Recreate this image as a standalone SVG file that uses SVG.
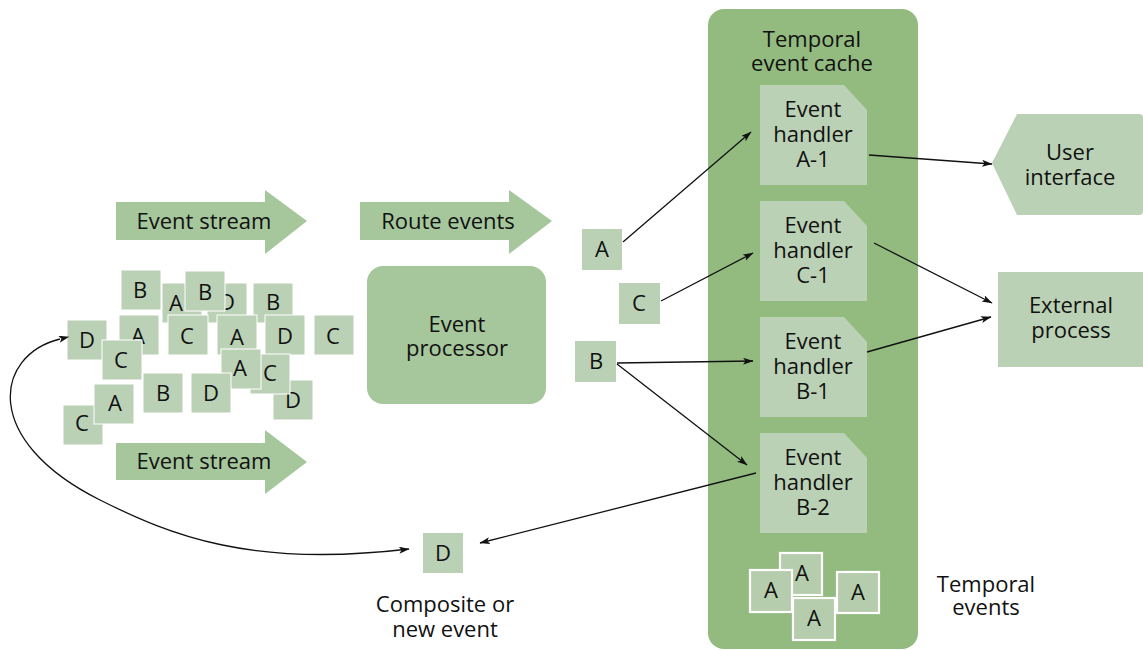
<svg xmlns="http://www.w3.org/2000/svg" width="1143" height="650" viewBox="0 0 1143 650">
<style>
text{font-family:"Open Sans","Liberation Sans",sans-serif;font-size:22px;fill:#111;text-anchor:middle}
.ev{fill:#bbd1b5;stroke:#fff;stroke-width:1}
.tev{fill:#b5cdac;stroke:#fff;stroke-width:2.2}
.big{fill:#a6c79c}
.lite{fill:#bbd1b5}
.cache{fill:#93bb80}
.conn{fill:none;stroke:#111;stroke-width:1.3}
</style>
<defs>
<marker id="ah" markerWidth="11" markerHeight="8" refX="10" refY="3.5" orient="auto" markerUnits="userSpaceOnUse">
<path d="M0,0 L10.5,3.5 L0,7 L2.5,3.5 Z" fill="#111"/>
</marker>
<marker id="ahs" markerWidth="11" markerHeight="8" refX="1" refY="3.5" orient="auto-start-reverse" markerUnits="userSpaceOnUse">
<path d="M0,0 L10.5,3.5 L0,7 L2.5,3.5 Z" fill="#111"/>
</marker>
</defs>
<rect width="1143" height="650" fill="#fff"/>

<g id="stream-top">
<polygon class="big" points="116,202 265,202 265,190 307,221 265,254 265,240 116,240"/>
<text x="204" y="229">Event stream</text>
</g>
<g id="route-events">
<polygon class="big" points="360,202 509,202 509,190 552,221 509,254 509,240 360,240"/>
<text x="448" y="229">Route events</text>
</g>
<g id="stream-bottom">
<polygon class="big" points="116,443 265,443 265,430 307,462 265,494 265,480 116,480"/>
<text x="204" y="469">Event stream</text>
</g>

<g id="event-cluster">
<rect class="ev" x="207" y="283" width="40" height="40"/><text x="227" y="310">D</text>
<rect class="ev" x="162" y="283" width="40" height="40"/><text x="176" y="311">A</text>
<rect class="ev" x="121" y="270" width="40" height="40"/><text x="140" y="298">B</text>
<rect class="ev" x="185" y="271" width="40" height="40"/><text x="205" y="300">B</text>
<rect class="ev" x="253" y="283" width="40" height="40"/><text x="273" y="310">B</text>
<rect class="ev" x="67" y="320" width="40" height="40"/><text x="87" y="348">D</text>
<rect class="ev" x="119" y="315" width="40" height="40"/><text x="138" y="344">A</text>
<rect class="ev" x="168" y="315" width="40" height="40"/><text x="187" y="344">C</text>
<rect class="ev" x="217" y="315" width="40" height="40"/><text x="237" y="345">A</text>
<rect class="ev" x="265" y="315" width="40" height="40"/><text x="285" y="344">D</text>
<rect class="ev" x="314" y="315" width="40" height="40"/><text x="333" y="344">C</text>
<rect class="ev" x="102" y="340" width="40" height="40"/><text x="121" y="368">C</text>
<rect class="ev" x="273" y="380" width="40" height="40"/><text x="293" y="408">D</text>
<rect class="ev" x="250" y="354" width="40" height="40"/><text x="270" y="381">C</text>
<rect class="ev" x="221" y="349" width="40" height="40"/><text x="240" y="376">A</text>
<rect class="ev" x="143" y="373" width="40" height="40"/><text x="163" y="401">B</text>
<rect class="ev" x="191" y="373" width="40" height="40"/><text x="211" y="401">D</text>
<rect class="ev" x="63" y="405" width="40" height="40"/><text x="82" y="431">C</text>
<rect class="ev" x="94" y="384" width="40" height="40"/><text x="115" y="411">A</text>
</g>

<g id="event-processor">
<rect class="big" x="367" y="266" width="179" height="138" rx="16"/>
<text x="457" y="332">Event</text>
<text x="457" y="356">processor</text>
</g>

<g id="event-a">
<rect class="lite" x="582" y="229" width="40" height="41"/><text x="602" y="257">A</text>
</g>
<g id="event-c">
<rect class="lite" x="619" y="283" width="41" height="41"/><text x="639" y="311">C</text>
</g>
<g id="event-b">
<rect class="lite" x="575" y="341" width="41" height="41"/><text x="596" y="369">B</text>
</g>

<g id="temporal-event-cache">
<rect class="cache" x="708" y="9" width="210" height="640" rx="16"/>
<text x="812" y="47">Temporal</text>
<text x="812" y="71">event cache</text>
</g>

<g id="handler-a1">
<path class="lite" d="M760,85 H844 L867,110 V185 H760 Z"/>
<text x="813" y="117">Event</text><text x="813" y="142">handler</text><text x="813" y="167">A-1</text>
</g>
<g id="handler-c1">
<path class="lite" d="M760,201 H844 L867,226 V301 H760 Z"/>
<text x="813" y="233">Event</text><text x="813" y="258">handler</text><text x="813" y="283">C-1</text>
</g>
<g id="handler-b1">
<path class="lite" d="M760,317 H844 L867,342 V417 H760 Z"/>
<text x="813" y="349">Event</text><text x="813" y="374">handler</text><text x="813" y="399">B-1</text>
</g>
<g id="handler-b2">
<path class="lite" d="M760,433 H844 L867,458 V533 H760 Z"/>
<text x="813" y="465">Event</text><text x="813" y="490">handler</text><text x="813" y="515">B-2</text>
</g>

<g id="temporal-events-stack">
<rect class="tev" x="780" y="553" width="42" height="42"/><text x="802" y="581">A</text>
<rect class="tev" x="750" y="570" width="42" height="42"/><text x="771" y="598">A</text>
<rect class="tev" x="793" y="598" width="42" height="42"/><text x="814" y="626">A</text>
<rect class="tev" x="837" y="572" width="42" height="41"/><text x="858" y="600">A</text>
</g>
<g id="temporal-events-label">
<text x="986" y="592">Temporal</text>
<text x="986" y="615">events</text>
</g>

<g id="user-interface">
<path class="lite" d="M992,163 L1017,114 H1139 Q1143,114 1143,118 V211 Q1143,215 1139,215 H1017 Z"/>
<text x="1070" y="160">User</text>
<text x="1070" y="185">interface</text>
</g>

<g id="external-process">
<rect class="lite" x="998" y="272" width="145" height="95"/>
<text x="1071" y="313">External</text>
<text x="1071" y="338">process</text>
</g>

<g id="event-d">
<rect class="lite" x="423" y="533" width="40" height="40"/><text x="443" y="561">D</text>
</g>
<g id="composite-label">
<text x="445" y="612">Composite or</text>
<text x="445" y="637">new event</text>
</g>

<g id="connectors">
<line class="conn" x1="623" y1="242" x2="751" y2="132" marker-end="url(#ah)"/>
<line class="conn" x1="661" y1="301" x2="753" y2="253" marker-end="url(#ah)"/>
<line class="conn" x1="617" y1="363" x2="753" y2="361" marker-end="url(#ah)"/>
<line class="conn" x1="617" y1="364" x2="747" y2="465" marker-end="url(#ah)"/>
<line class="conn" x1="869" y1="155" x2="992" y2="164" marker-end="url(#ah)"/>
<line class="conn" x1="874" y1="243" x2="992" y2="303" marker-end="url(#ah)"/>
<line class="conn" x1="867" y1="352" x2="991" y2="317" marker-end="url(#ah)"/>
<line class="conn" x1="756" y1="473" x2="480" y2="543" marker-end="url(#ah)"/>
<path class="conn" d="M60,339 C-5,355 -20,440 100,500 C170,535 250,568 409,549" marker-start="url(#ahs)" marker-end="url(#ah)"/>
</g>
</svg>
